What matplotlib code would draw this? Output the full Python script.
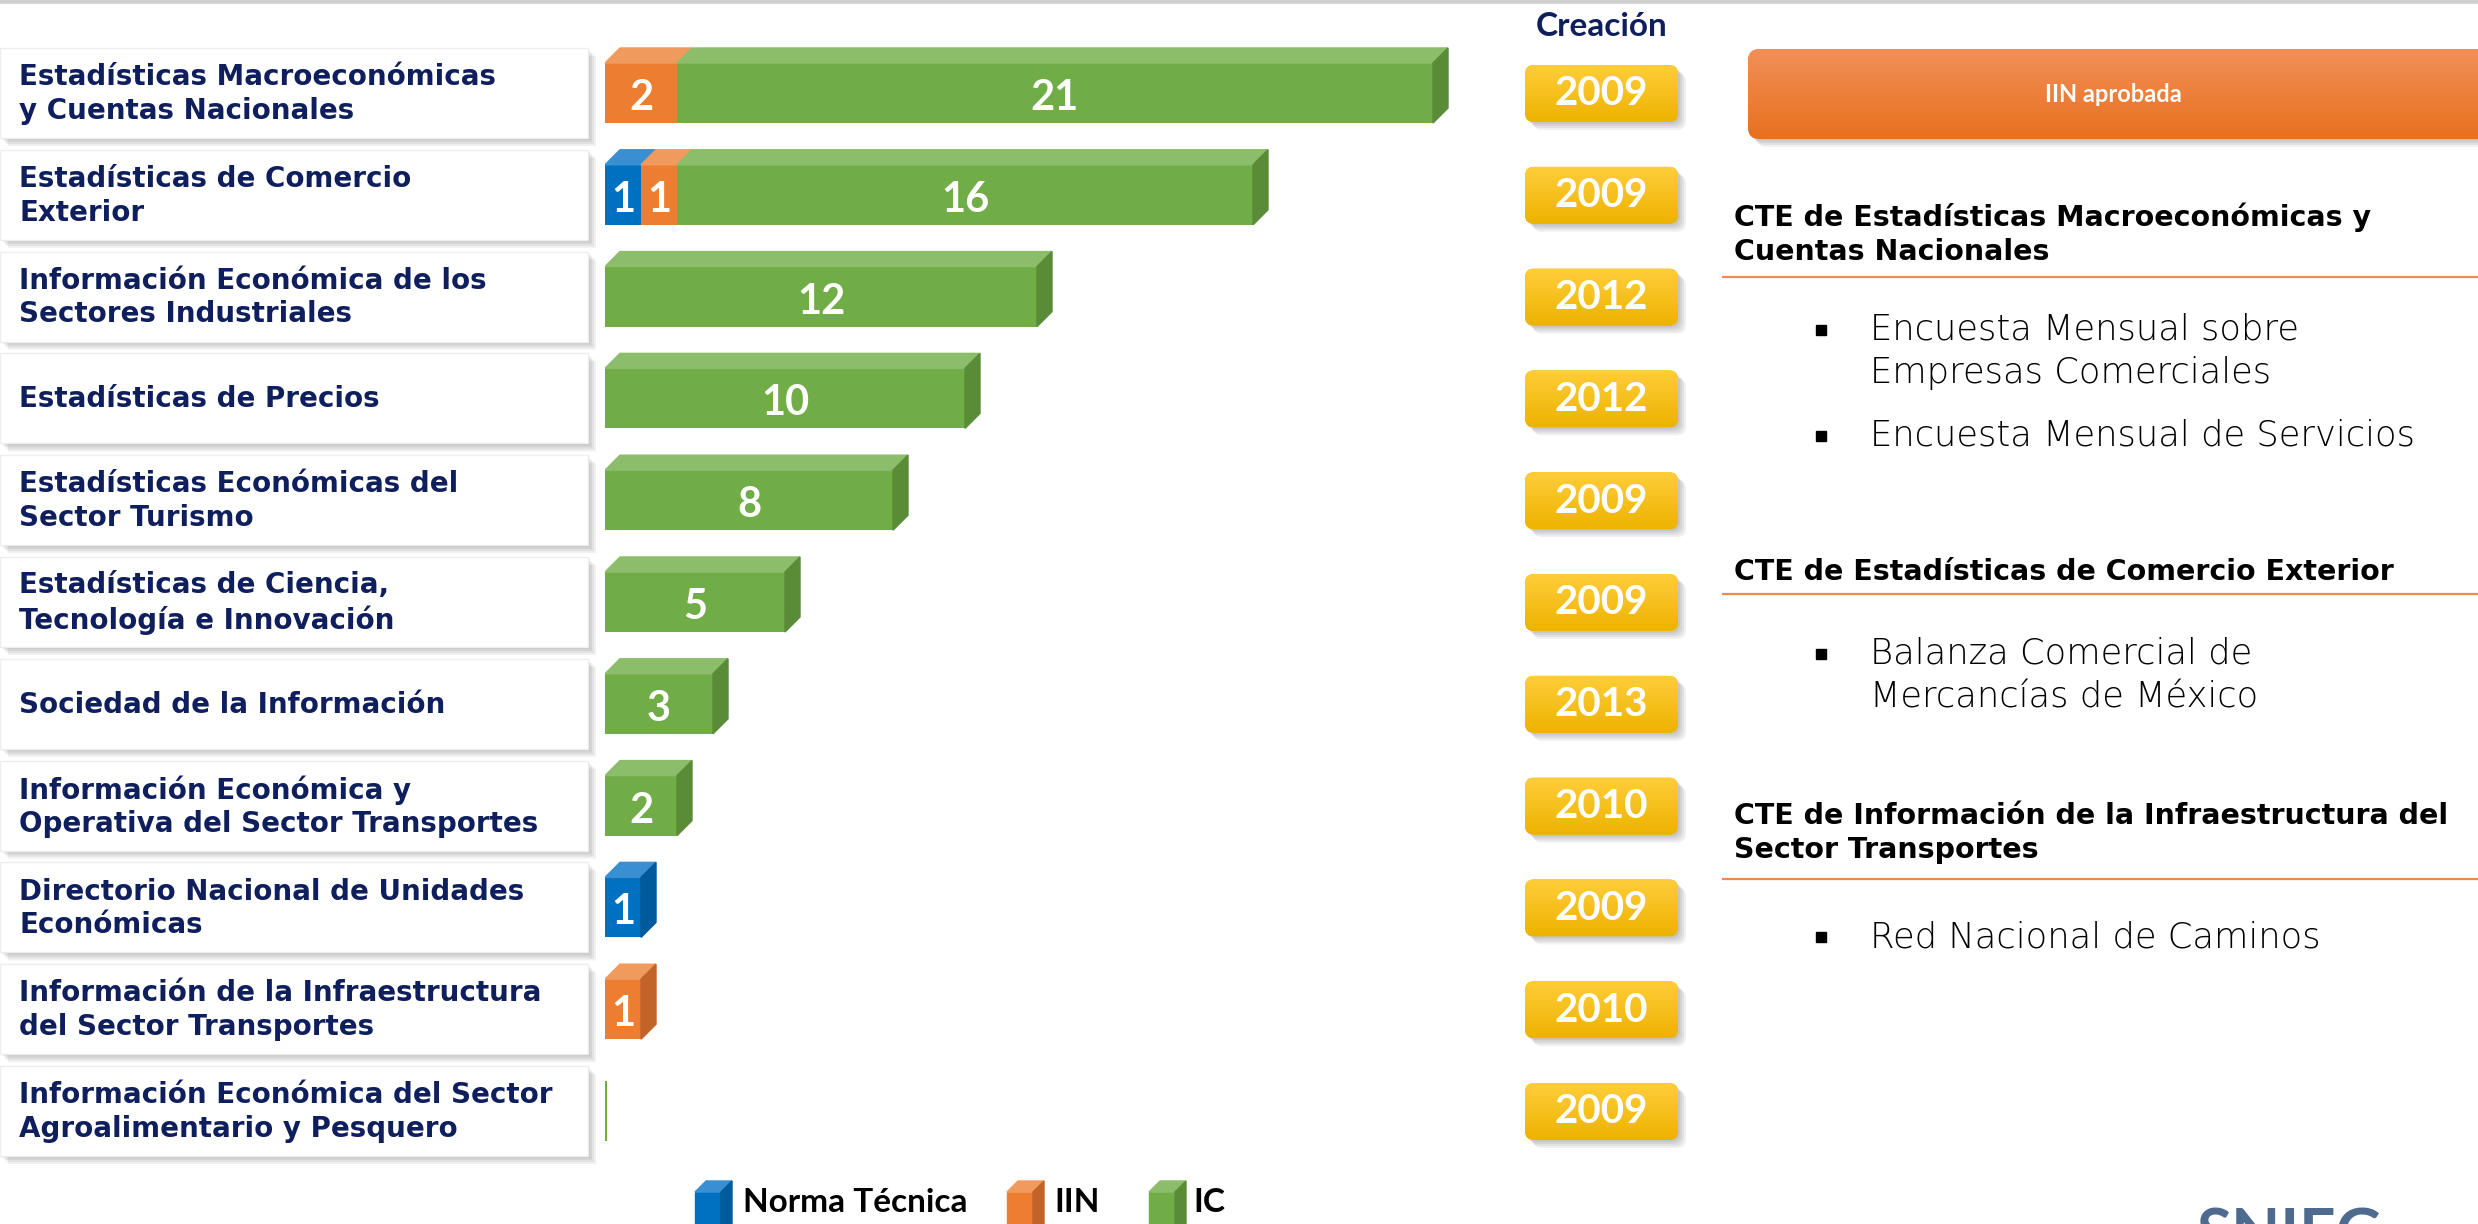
import numpy as np
import matplotlib
matplotlib.use('Agg')
import matplotlib.pyplot as plt
from matplotlib.patches import Polygon, FancyBboxPatch, Rectangle
from matplotlib.colors import LinearSegmentedColormap

plt.rcParams['font.family'] = ['Lato', 'DejaVu Sans']

# datos
categorias = [
    'Estadísticas Macroeconómicas\ny Cuentas Nacionales',
    'Estadísticas de Comercio\nExterior',
    'Información Económica de los\nSectores Industriales',
    'Estadísticas de Precios',
    'Estadísticas Económicas del\nSector Turismo',
    'Estadísticas de Ciencia,\nTecnología e Innovación',
    'Sociedad de la Información',
    'Información Económica y\nOperativa del Sector Transportes',
    'Directorio Nacional de Unidades\nEconómicas',
    'Información de la Infraestructura\ndel Sector Transportes',
    'Información Económica del Sector\nAgroalimentario y Pesquero',
]
norma_tecnica = [0, 1, 0, 0, 0, 0, 0, 0, 1, 0, 0]
iin = [2, 1, 0, 0, 0, 0, 0, 0, 0, 1, 0]
ic = [21, 16, 12, 10, 8, 5, 3, 2, 0, 0, 0]
creacion = [2009, 2009, 2012, 2012, 2009, 2009, 2013, 2010, 2009, 2010, 2009]

series_nombres = ['Norma Técnica', 'IIN', 'IC']
color_frente = ['#0070C0', '#ED7D31', '#70AD47']
color_arriba = ['#3A8FD2', '#F19A5E', '#8CBD6A']
color_lado = ['#005A9C', '#C2642A', '#5A8C38']

panel_titulo = 'IIN aprobada'
cte_titulos = [
    'CTE de Estadísticas Macroeconómicas y\nCuentas Nacionales',
    'CTE de Estadísticas de Comercio Exterior',
    'CTE de Información de la Infraestructura del\nSector Transportes',
]
cte_programas = [
    ['Encuesta Mensual sobre\nEmpresas Comerciales', 'Encuesta Mensual de Servicios'],
    ['Balanza Comercial de\nMercancías de México'],
    ['Red Nacional de Caminos'],
]

W, H = 2478, 1224
fig = plt.figure(figsize=(W / 100, H / 100), dpi=100)
fondo = fig.add_axes([0, 0, 1, 1], zorder=0)

n = len(categorias)
x0_px, escala, ax_w = 605, 36, 900
row0, paso = 93, 101.8
ax_top = row0 - paso / 2
ax_bot = row0 + paso * (n - 0.5)
ax = fig.add_axes([x0_px / W, 1 - ax_bot / H, ax_w / W, (ax_bot - ax_top) / H], zorder=2)
ax.set_xlim(0, ax_w / escala)
ax.set_ylim(n - 0.5, -0.5)
ax.axis('off')
ax.patch.set_alpha(0)

navy = '#0F1F5E'
ancha = ['DejaVu Sans']

# barras 3D apiladas
alto = 0.59
dx = 15 / escala
dy = 15 / paso
series = [norma_tecnica, iin, ic]
for i in range(n):
    izq = 0
    top = i - alto / 2
    ultimo = None
    for k, serie in enumerate(series):
        v = serie[i]
        if v <= 0:
            continue
        ax.barh(i, v, left=izq, height=alto, color=color_frente[k], zorder=3)
        ax.add_patch(Polygon([(izq, top), (izq + v, top), (izq + v + dx, top - dy), (izq + dx, top - dy)],
                             closed=True, color=color_arriba[k], zorder=3))
        ax.text(izq + v / 2, i + 0.05, str(v), color='white', fontsize=30, fontweight='bold',
                ha='center', va='center', zorder=5)
        izq += v
        ultimo = k
    if ultimo is None:
        # valor cero: solo una franja delgada
        ax.barh(i, 0, left=0, height=alto, color=color_frente[2], edgecolor=color_frente[2], lw=3, zorder=3)
        continue
    ax.add_patch(Polygon([(izq, top), (izq + dx, top - dy), (izq + dx, top + alto - dy), (izq, top + alto)],
                         closed=True, color=color_lado[ultimo], zorder=3))

fig.canvas.draw()


def fila_px(i):
    return H - ax.transData.transform((0, i))[1]


def sombra(x, y, w, h, r=0):
    for off in range(2, 10, 2):
        fondo.add_patch(FancyBboxPatch((x + off, y + off), w, h, boxstyle=f'round,pad=0,rounding_size={r}',
                                       facecolor='#000000', edgecolor='none', alpha=0.06, zorder=1))


def caja_gradiente(x, y, w, h, c1, c2, r):
    caja = FancyBboxPatch((x, y), w, h, boxstyle=f'round,pad=0,rounding_size={r}',
                          facecolor=c2, edgecolor='none', zorder=2)
    fondo.add_patch(caja)
    cm = LinearSegmentedColormap.from_list('g', [c1, c2])
    grad = np.linspace(0, 1, 100).reshape(-1, 1)
    im = fondo.imshow(grad, extent=[x, x + w, y + h, y], origin='upper', aspect='auto', cmap=cm, zorder=3)
    im.set_clip_path(caja)


# etiquetas de categoria
for i, cat in enumerate(categorias):
    yc = fila_px(i)
    sombra(0, yc - 45, 588, 90)
    fondo.add_patch(Rectangle((0, yc - 45), 588, 90, facecolor='white', edgecolor='#eeeeee', lw=1, zorder=2))
    fondo.text(19, yc + 1, cat, color=navy, fontsize=20, fontweight='bold', ha='left', va='center',
               linespacing=1.25, family=ancha, zorder=4)

# años de creacion
fondo.text(1602, 27, 'Creación', color=navy, fontsize=24, fontweight='bold', ha='center', va='center')
for i, anio in enumerate(creacion):
    yc = fila_px(i)
    sombra(1525, yc - 28, 153, 57, 9)
    caja_gradiente(1525, yc - 28, 153, 57, '#FFCD3A', '#EDB300', 9)
    fondo.text(1601, yc + 1, str(anio), color='white', fontsize=29, fontweight='bold',
               ha='center', va='center', zorder=5)

# panel derecho
sombra(1748, 49, 760, 90, 12)
caja_gradiente(1748, 49, 760, 90, '#F28F58', '#E8701E', 12)
fondo.text(2113, 95, panel_titulo, color='white', fontsize=17, fontweight='bold', ha='center', va='center', zorder=5)

titulo_y = [234, 572, 833]
linea_y = [277, 594, 879]
programa_y = [[330, 436], [654], [937]]
for t, ty, ly, progs, py in zip(cte_titulos, titulo_y, linea_y, cte_programas, programa_y):
    fondo.text(1734, ty, t, color='black', fontsize=20.5, fontweight='bold', ha='left', va='center',
               linespacing=1.25, family=ancha)
    fondo.plot([1723, W], [ly, ly], color='#F08A4B', lw=1.6)
    for p, y in zip(progs, py):
        fondo.plot(1821, y, marker='s', ms=7, color='black')
        for j, linea in enumerate(p.split('\n')):
            fondo.text(1870, y + j * 43, linea, color='black', fontsize=25.5, fontweight=200,
                       ha='left', va='center', family=ancha)

# leyenda
leyenda_x = [(695, 743), (1007, 1054), (1149, 1193)]
for k, (cx, tx) in enumerate(leyenda_x):
    fw, d, yt = 26, 11, 1192
    fondo.add_patch(Rectangle((cx, yt), fw, 60, color=color_frente[k], zorder=3))
    fondo.add_patch(Polygon([(cx, yt), (cx + fw, yt), (cx + fw + d, yt - d), (cx + d, yt - d)],
                            color=color_arriba[k], zorder=3))
    fondo.add_patch(Polygon([(cx + fw, yt), (cx + fw + d, yt - d), (cx + fw + d, H + 20), (cx + fw, H + 20)],
                            color=color_lado[k], zorder=3))
    fondo.text(tx, 1203, series_nombres[k], color='black', fontsize=24, fontweight='bold', ha='left', va='center')

# linea superior y logo
fondo.plot([0, W], [1, 1], color='#cfcfcf', lw=4)
fondo.text(2290, 1236, 'SNIEG', color='#4F6A8F', fontsize=46, fontweight='bold', ha='center', va='center')

fondo.set_xlim(0, W)
fondo.set_ylim(H, 0)
fondo.axis('off')

fig.savefig('out.png', dpi=100, facecolor='white')
